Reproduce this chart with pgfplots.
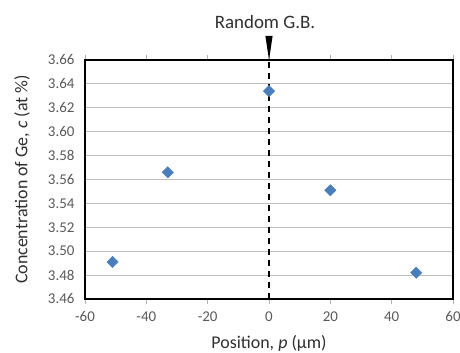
\documentclass[border=0pt]{standalone}
\usepackage{pgfplots}
\pgfplotsset{compat=1.18}
\usepackage{fontspec}
\setmainfont{Carlito}
\definecolor{mkblue}{HTML}{4A7EBB}
\definecolor{ticktxt}{HTML}{595959}
\definecolor{labtxt}{HTML}{303030}
\begin{document}
\begin{tikzpicture}
\begin{axis}[
  at={(0,0)}, anchor=south west,
  scale only axis,
  width=368bp, height=239bp,
  xmin=-60, xmax=60, ymin=3.46, ymax=3.66,
  xtick={-60,-40,-20,0,20,40,60},
  ytick={3.46,3.48,3.50,3.52,3.54,3.56,3.58,3.60,3.62,3.64,3.66},
  yticklabel style={/pgf/number format/fixed, /pgf/number format/fixed zerofill, /pgf/number format/precision=2},
  /pgf/number format/assume math mode=true,
  ymajorgrids,
  grid style={draw=gray!50, line width=0.8bp},
  axis line style={line width=2bp, black},
  tick align=outside,
  major tick length=5bp,
  tick style={draw=gray!60, line width=0.7bp},
  ytick style={draw=none},
  x tick label style={font=\fontsize{15}{16}\selectfont, text=ticktxt, yshift=-4bp},
  y tick label style={font=\fontsize{15}{16}\selectfont, text=ticktxt, xshift=-2bp},
  xlabel={Position, \textit{p} (µm)},
  ylabel={Concentration of Ge, \textit{c} (at \%)},
  label style={font=\fontsize{18}{19}\selectfont, text=labtxt},
  xlabel style={at={(axis description cs:0.5,-0.184)}, anchor=center},
  ylabel style={at={(axis description cs:-0.171,0.5)}, anchor=center},
  clip=false,
]
\addplot[only marks, mark=square*, mark size=4bp, mark options={rotate=45, fill=mkblue, draw=mkblue}]
  coordinates {(-51,3.491) (-33,3.566) (0,3.634) (20,3.551) (48,3.482)};
\draw[black, line width=1.6bp, dash pattern=on 6bp off 5bp] (axis cs:0,3.46) -- (axis cs:0,3.66);
\fill[black] (axis cs:0,3.66) -- ++(-3.6bp,24bp) -- ++(7.2bp,0bp) -- cycle;
\node[font=\fontsize{19}{20}\selectfont, text=labtxt, anchor=center] at ([xshift=-4bp,yshift=38bp]axis cs:0,3.66) {Random G.B.};
\end{axis}
\pgfresetboundingbox
\path[use as bounding box] (-85bp,-54bp) rectangle (375bp,299bp);
\end{tikzpicture}
\end{document}
